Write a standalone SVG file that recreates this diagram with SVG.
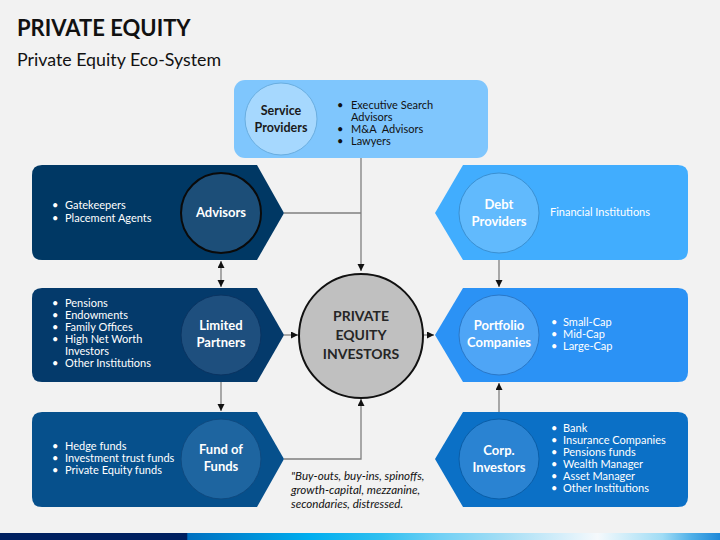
<svg xmlns="http://www.w3.org/2000/svg" width="720" height="540" viewBox="0 0 720 540">
<defs>
<marker id="arr" markerUnits="userSpaceOnUse" markerWidth="8" markerHeight="8" refX="7" refY="3.5" orient="auto-start-reverse">
<path d="M0,0 L7,3.5 L0,7 Z" fill="#111"/>
</marker>
<linearGradient id="bar" x1="0" y1="0" x2="720" y2="0" gradientUnits="userSpaceOnUse">
<stop offset="0" stop-color="#002060"/>
<stop offset="0.259" stop-color="#002060"/>
<stop offset="0.261" stop-color="#0070c0"/>
<stop offset="0.35" stop-color="#0090d8"/>
<stop offset="0.43" stop-color="#00aeef"/>
<stop offset="0.53" stop-color="#30c0f0"/>
<stop offset="0.61" stop-color="#70d0f5"/>
<stop offset="0.70" stop-color="#a5def5"/>
<stop offset="0.78" stop-color="#d5eefa"/>
<stop offset="0.83" stop-color="#f5f9fc"/>
<stop offset="0.86" stop-color="#d8f0fa"/>
<stop offset="0.92" stop-color="#a0dcf5"/>
<stop offset="0.96" stop-color="#50b0e8"/>
<stop offset="1" stop-color="#1e88d8"/>
</linearGradient>
</defs>
<style>
text{font-family:Lato,"Liberation Sans",sans-serif}
.t{font-size:11px;fill:#fff}
.d{font-size:11px;fill:#111}
.h{font-size:13px;font-weight:bold;fill:#fff;text-anchor:middle}
.hd{font-size:12.5px;font-weight:bold;fill:#1a1a1a;text-anchor:middle}
.c{font-size:14px;font-weight:bold;fill:#262626;text-anchor:middle}
.it{font-size:11.6px;font-style:italic;fill:#111}
.ln{fill:none;stroke:#7f7f7f;stroke-width:1.3}
</style>
<rect width="720" height="540" fill="#f2f2f2"/>
<text x="17" y="36" style="font-size:22px;font-weight:bold;fill:#111">PRIVATE EQUITY</text>
<text x="17" y="66" style="font-size:17.8px;fill:#111">Private Equity Eco-System</text>

<g id="connectors">
<path class="ln" d="M361,158 V271" marker-end="url(#arr)"/>
<path class="ln" d="M284,213 H361"/>
<path class="ln" d="M221,261 V287" marker-start="url(#arr)" marker-end="url(#arr)"/>
<path class="ln" d="M284,335 H298" marker-end="url(#arr)"/>
<path class="ln" d="M221,375 V411" marker-end="url(#arr)"/>
<path class="ln" d="M284,459 H361 V399" marker-end="url(#arr)"/>
<path class="ln" d="M423,335 H434" marker-end="url(#arr)"/>
<path class="ln" d="M499,253 V287" marker-end="url(#arr)"/>
<path class="ln" d="M499,419 V383" marker-end="url(#arr)"/>
</g>

<g id="service-providers">
<rect x="234" y="80" width="254" height="78" rx="11" fill="#7fc6fd"/>
<circle cx="281" cy="119" r="36" fill="#a6d8fe" stroke="#6aaee0" stroke-width="1"/>
<text class="hd" x="281" y="115">Service</text>
<text class="hd" x="281" y="132">Providers</text>
<text class="d"><tspan x="337" y="109">•</tspan><tspan x="351" y="109">Executive Search</tspan><tspan x="351" y="121">Advisors</tspan><tspan x="337" y="133">•</tspan><tspan x="351" y="133">M&amp;A&#160; Advisors</tspan><tspan x="337" y="145">•</tspan><tspan x="351" y="145">Lawyers</tspan></text>
</g>

<g id="advisors">
<path d="M42,165 H257 L284,213 L257,260 H42 Q32,260 32,250 V175 Q32,165 42,165 Z" fill="#003864"/>
<circle cx="221" cy="213" r="40" fill="#1c4e78" stroke="#0a0a0a" stroke-width="2"/>
<text class="h" x="221" y="217">Advisors</text>
<text class="t"><tspan x="52" y="209">•</tspan><tspan x="65" y="209">Gatekeepers</tspan><tspan x="52" y="222">•</tspan><tspan x="65" y="222">Placement Agents</tspan></text>
</g>

<g id="limited-partners">
<path d="M42,288 H257 L284,335 L257,382 H42 Q32,382 32,372 V298 Q32,288 42,288 Z" fill="#043a6b"/>
<circle cx="221" cy="335" r="40" fill="#1e4f7e" stroke="#0a3462" stroke-width="1"/>
<text class="h" x="221" y="330">Limited</text>
<text class="h" x="221" y="347">Partners</text>
<text class="t"><tspan x="52" y="307">•</tspan><tspan x="65" y="307">Pensions</tspan><tspan x="52" y="319">•</tspan><tspan x="65" y="319">Endowments</tspan><tspan x="52" y="331">•</tspan><tspan x="65" y="331">Family Offices</tspan><tspan x="52" y="343">•</tspan><tspan x="65" y="343">High Net Worth</tspan><tspan x="65" y="355">Investors</tspan><tspan x="52" y="367">•</tspan><tspan x="65" y="367">Other Institutions</tspan></text>
</g>

<g id="fund-of-funds">
<path d="M42,412 H257 L284,459 L257,507 H42 Q32,507 32,497 V422 Q32,412 42,412 Z" fill="#06508c"/>
<circle cx="221" cy="459" r="40" fill="#1e65a0" stroke="#0f4a80" stroke-width="1"/>
<text class="h" x="221" y="454">Fund of</text>
<text class="h" x="221" y="471">Funds</text>
<text class="t"><tspan x="52" y="450">•</tspan><tspan x="65" y="450">Hedge funds</tspan><tspan x="52" y="462">•</tspan><tspan x="65" y="462">Investment trust funds</tspan><tspan x="52" y="474">•</tspan><tspan x="65" y="474">Private Equity funds</tspan></text>
</g>

<g id="pe-investors">
<circle cx="361" cy="336" r="62" fill="#c0c0c0" stroke="#111" stroke-width="2"/>
<text class="c" x="361" y="321">PRIVATE</text>
<text class="c" x="361" y="340">EQUITY</text>
<text class="c" x="361" y="359">INVESTORS</text>
</g>

<g id="deals-note">
<text class="it"><tspan x="291" y="480">"Buy-outs, buy-ins, spinoffs,</tspan><tspan x="291" y="494">growth-capital, mezzanine,</tspan><tspan x="291" y="508">secondaries, distressed.</tspan></text>
</g>

<g id="debt-providers">
<path d="M463,165 H678 Q688,165 688,175 V250 Q688,260 678,260 H463 L435,213 Z" fill="#41adfe"/>
<circle cx="499" cy="213" r="40" fill="#61bafd" stroke="#3a90d2" stroke-width="1"/>
<text class="h" x="499" y="209">Debt</text>
<text class="h" x="499" y="226">Providers</text>
<text class="t" x="550" y="216">Financial Institutions</text>
</g>

<g id="portfolio-companies">
<path d="M463,288 H678 Q688,288 688,298 V372 Q688,382 678,382 H463 L435,335 Z" fill="#2b92f5"/>
<circle cx="499" cy="335" r="40" fill="#4ea5f6" stroke="#2a78c8" stroke-width="1"/>
<text class="h" x="499" y="330">Portfolio</text>
<text class="h" x="499" y="347">Companies</text>
<text class="t"><tspan x="551" y="326">•</tspan><tspan x="563" y="326">Small-Cap</tspan><tspan x="551" y="338">•</tspan><tspan x="563" y="338">Mid-Cap</tspan><tspan x="551" y="350">•</tspan><tspan x="563" y="350">Large-Cap</tspan></text>
</g>

<g id="corp-investors">
<path d="M463,412 H678 Q688,412 688,422 V497 Q688,507 678,507 H463 L435,459 Z" fill="#0b70c6"/>
<circle cx="499" cy="459" r="40" fill="#2a83d2" stroke="#0a5ea8" stroke-width="1"/>
<text class="h" x="499" y="455">Corp.</text>
<text class="h" x="499" y="472">Investors</text>
<text class="t"><tspan x="551" y="432">•</tspan><tspan x="563" y="432">Bank</tspan><tspan x="551" y="444">•</tspan><tspan x="563" y="444">Insurance Companies</tspan><tspan x="551" y="456">•</tspan><tspan x="563" y="456">Pensions funds</tspan><tspan x="551" y="468">•</tspan><tspan x="563" y="468">Wealth Manager</tspan><tspan x="551" y="480">•</tspan><tspan x="563" y="480">Asset Manager</tspan><tspan x="551" y="492">•</tspan><tspan x="563" y="492">Other Institutions</tspan></text>
</g>

<rect x="0" y="533" width="720" height="7" fill="url(#bar)"/>
</svg>
